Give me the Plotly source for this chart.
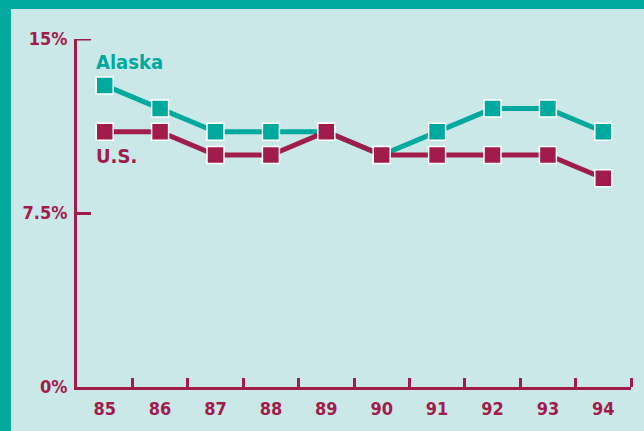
import plotly.graph_objects as go

years = [85, 86, 87, 88, 89, 90, 91, 92, 93, 94]
alaska = [13, 12, 11, 11, 11, 10, 11, 12, 12, 11]
us = [11, 11, 10, 10, 11, 10, 10, 10, 10, 9]
y_ticks = [0, 7.5, 15]
y_labels = ["0%", "7.5%", "15%"]

TEAL = "#00A99D"
MAROON = "#A11C4B"
BG = "#C9E8E7"
FONT = "Liberation Sans Narrow, DejaVu Sans Condensed, sans-serif"

fig = go.Figure()
for name, vals, col in [("Alaska", alaska, TEAL), ("U.S.", us, MAROON)]:
    fig.add_trace(go.Scatter(
        x=years, y=vals, mode="lines+markers", name=name,
        line=dict(color=col, width=5),
        marker=dict(symbol="square", size=17, color=col, line=dict(color="white", width=1.5)),
        showlegend=False, cliponaxis=False,
    ))

fig.add_annotation(x=84.8, y=14.0, xref="x", yref="y", text="<b>Alaska</b>", showarrow=False,
                   xanchor="left", yanchor="middle", font=dict(family=FONT, size=20, color=TEAL))
fig.add_annotation(x=84.8, y=9.95, xref="x", yref="y", text="<b>U.S.</b>", showarrow=False,
                   xanchor="left", yanchor="middle", font=dict(family=FONT, size=20, color=MAROON))

# frame bars
fig.add_shape(type="rect", xref="paper", yref="paper", x0=-77/554, x1=-66/554, y0=-1, y1=2,
              fillcolor=TEAL, line_width=0, layer="below")
fig.add_shape(type="rect", xref="paper", yref="paper", x0=-1, x1=2, y0=1 + 30/348, y1=2,
              fillcolor=TEAL, line_width=0, layer="below")
# top tick of the y axis (plotly hides the inside tick at the range end)
fig.add_shape(type="line", xref="paper", yref="y", x0=0, x1=14/554, y0=y_ticks[-1], y1=y_ticks[-1],
              line=dict(color=MAROON, width=3))

fig.update_layout(
    width=644, height=431,
    margin=dict(l=77, r=13, t=39, b=44),
    paper_bgcolor=BG, plot_bgcolor=BG,
    font=dict(family=FONT, color=MAROON),
    xaxis=dict(range=[84.5, 94.5], tickvals=years, ticktext=["<b>%d</b>" % y for y in years],
               ticks="", showgrid=False, zeroline=False, ticklabelstandoff=3,
               showline=True, linecolor=MAROON, linewidth=3,
               tickfont=dict(family=FONT, size=18, color=MAROON),
               minor=dict(tickvals=[85.5, 86.5, 87.5, 88.5, 89.5, 90.5, 91.5, 92.5, 93.5, 94.5],
                          ticks="inside", ticklen=9, tickwidth=3, tickcolor=MAROON, showgrid=False)),
    yaxis=dict(range=[0, 15], tickvals=y_ticks, ticktext=["<b>%s</b>" % t for t in y_labels],
               ticks="inside", ticklen=14, tickwidth=3, tickcolor=MAROON, ticklabelstandoff=3,
               showgrid=False, zeroline=False, showline=True, linecolor=MAROON, linewidth=3,
               tickfont=dict(family=FONT, size=18, color=MAROON)),
)
fig.write_html("out.html", config={"displayModeBar": False},
               post_script="document.body.style.margin='0';document.body.style.padding='0';")
